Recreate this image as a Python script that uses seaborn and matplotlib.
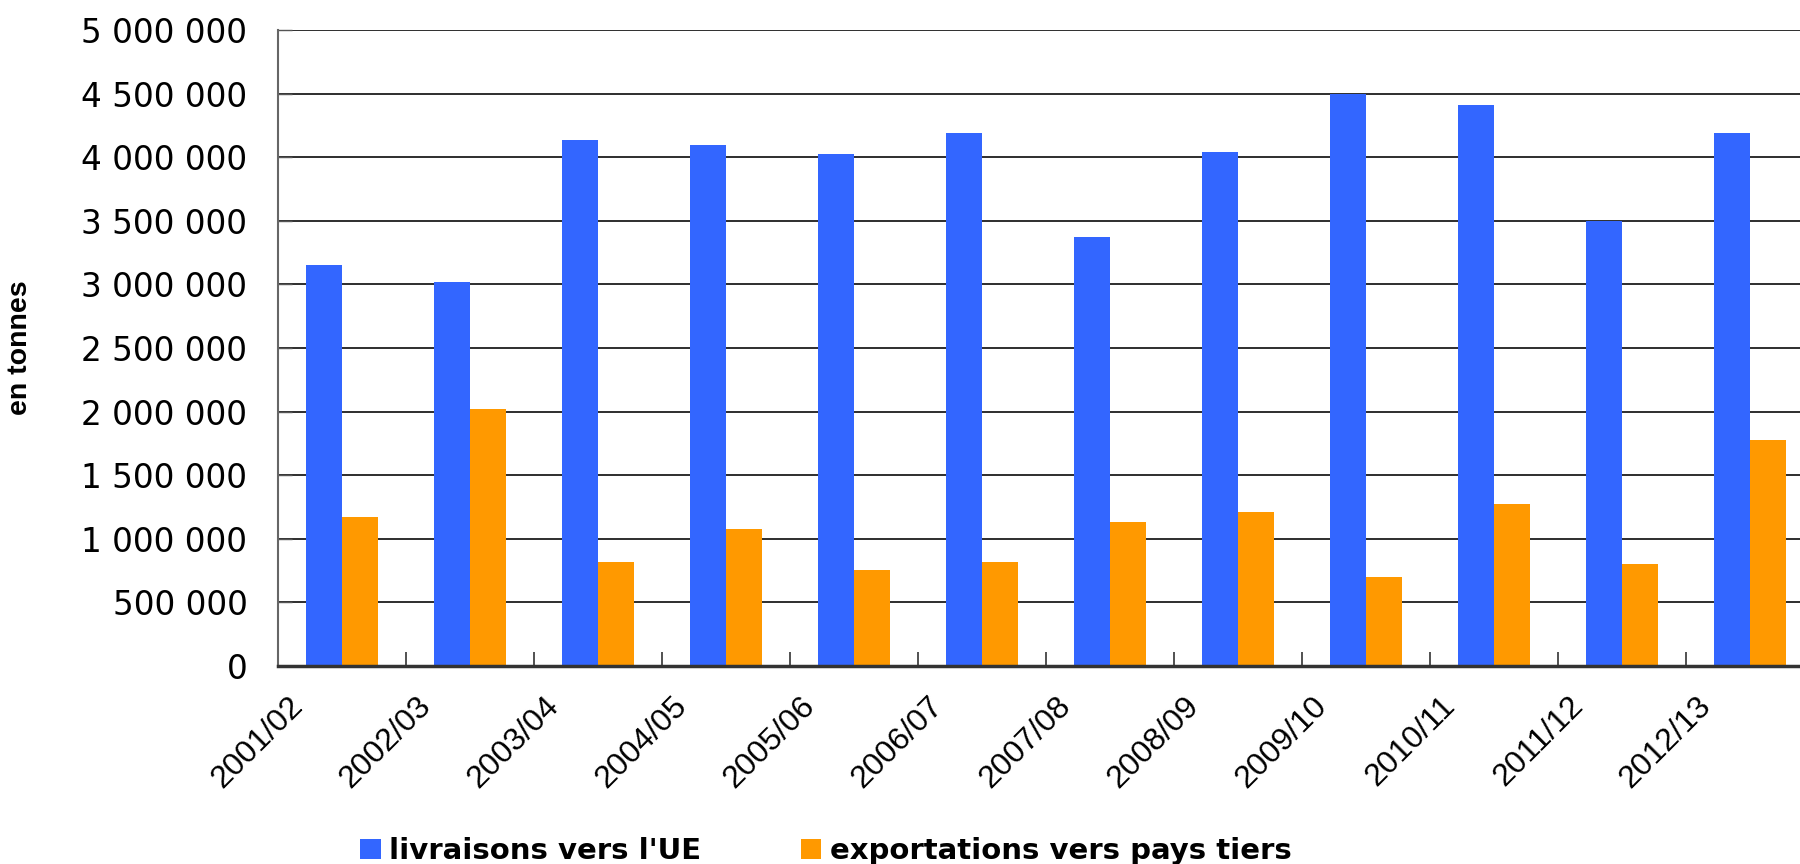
import matplotlib.pyplot as plt
import matplotlib.transforms as mtransforms
from matplotlib.ticker import FuncFormatter, MultipleLocator, FixedLocator
import seaborn as sns
import pandas as pd

# campagnes et volumes (en tonnes)
campagnes = ['2001/02', '2002/03', '2003/04', '2004/05', '2005/06', '2006/07',
             '2007/08', '2008/09', '2009/10', '2010/11', '2011/12', '2012/13']
livraisons_ue = [3155000, 3020000, 4133000, 4095000, 4025000, 4187000,
                 3373000, 4040000, 4495000, 4410000, 3495000, 4190000]
exportations_pt = [1171000, 2020000, 818000, 1075000, 756000, 818000,
                   1130000, 1210000, 700000, 1270000, 800000, 1780000]
series = ["livraisons vers l'UE", 'exportations vers pays tiers']
couleurs = ['#3366FF', '#FF9900']

df = pd.DataFrame({
    'campagne': campagnes * 2,
    'tonnes': livraisons_ue + exportations_pt,
    'serie': [series[0]] * len(campagnes) + [series[1]] * len(campagnes),
})

sns.set_theme(style='white')
plt.rcParams['font.family'] = ['Liberation Sans', 'DejaVu Sans']
plt.rcParams['text.color'] = 'black'

fig = plt.figure(figsize=(18, 8.64), dpi=100)
ax = fig.add_axes([278 / 1800, 198 / 864, 1536 / 1800, 636 / 864])

sns.barplot(data=df, x='campagne', y='tonnes', hue='serie', palette=couleurs,
            width=0.5625, gap=0, saturation=1, errorbar=None,
            linewidth=0, edgecolor='none', ax=ax)

ax.set_ylim(0, 5000000)
ax.set_xlim(-0.5, len(campagnes) - 0.5)
ax.yaxis.set_major_locator(MultipleLocator(500000))
ax.yaxis.set_major_formatter(FuncFormatter(lambda v, p: f'{int(v):,}'.replace(',', ' ')))
ax.yaxis.grid(True, color='#1e1e1e', linewidth=1.3)
ax.set_axisbelow(True)

for s in ['top', 'right']:
    ax.spines[s].set_visible(False)
ax.spines['left'].set_color('#666666')
ax.spines['left'].set_linewidth(1.5)
ax.spines['bottom'].set_color('#333333')
ax.spines['bottom'].set_linewidth(2.5)

ax.tick_params(axis='y', direction='in', length=10, width=1, color='#555555',
               left=True, pad=22, labelsize=23.5, labelcolor='black')
for lab in ax.get_yticklabels():
    lab.set_family('DejaVu Sans')

# limites des categories
ax.xaxis.set_minor_locator(FixedLocator([i + 0.5 for i in range(len(campagnes))]))
ax.tick_params(axis='x', which='minor', direction='in', length=10, width=1.2,
               color='#333333', bottom=True)
ax.tick_params(axis='x', which='major', length=0, pad=18, labelsize=23,
               labelcolor='black')
decal = mtransforms.ScaledTranslation(-0.33, 0, fig.dpi_scale_trans)
for lab in ax.get_xticklabels():
    lab.set_rotation(45)
    lab.set_ha('right')
    lab.set_va('top')
    lab.set_transform(lab.get_transform() + decal)

ax.set_xlabel('')
ax.set_ylabel('en tonnes', fontsize=20.5, fontweight='bold', color='black')
ax.yaxis.set_label_coords(-0.1595, 0.5)

handles, labels = ax.get_legend_handles_labels()
ax.legend_.remove()
fig.legend(handles, labels, loc='center', bbox_to_anchor=(826 / 1800, 1 - 851 / 864),
           ncol=2, frameon=False, handlelength=0.7, handleheight=0.7,
           handletextpad=0.3, columnspacing=3.4,
           prop={'family': 'DejaVu Sans', 'weight': 'bold', 'size': 21})

plt.savefig('out.png', dpi=100)
